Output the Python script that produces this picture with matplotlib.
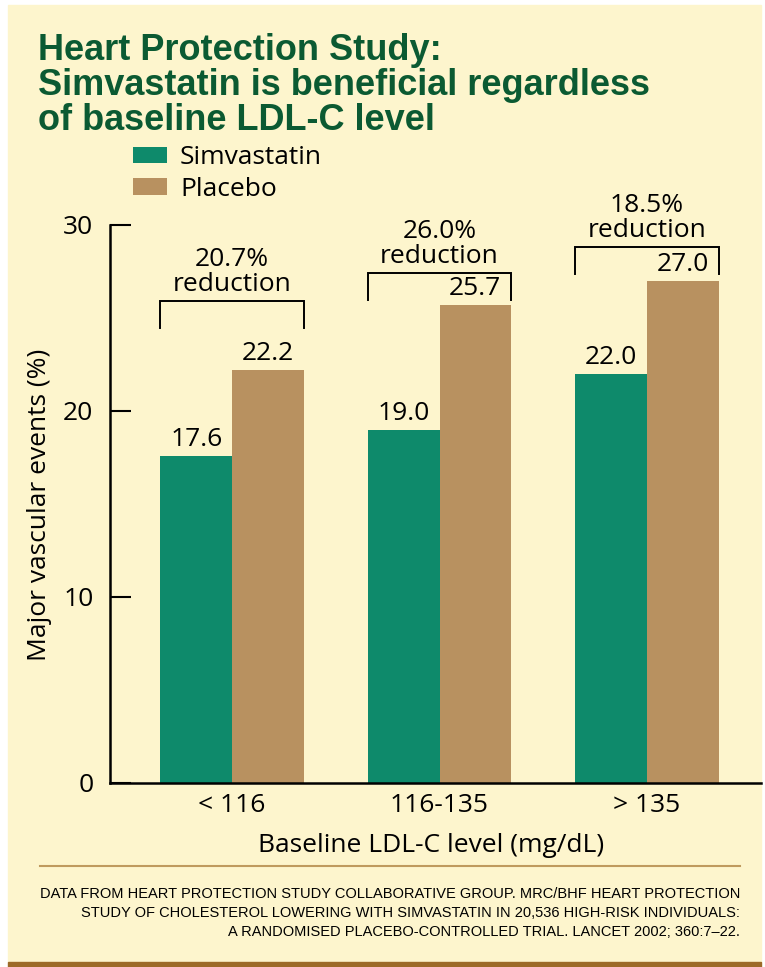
import numpy as np
import matplotlib
matplotlib.use('Agg')
import matplotlib.pyplot as plt
from matplotlib.patches import Rectangle
from matplotlib.lines import Line2D

# data
categories = ['< 116', '116-135', '> 135']
simvastatin = [17.6, 19.0, 22.0]
placebo = [22.2, 25.7, 27.0]
reduction = ['20.7%', '26.0%', '18.5%']
yticks = [0, 10, 20, 30]

title = 'Heart Protection Study:\nSimvastatin is beneficial regardless\nof baseline LDL-C level'
source = ('DATA FROM HEART PROTECTION STUDY COLLABORATIVE GROUP. MRC/BHF HEART PROTECTION\n'
          'STUDY OF CHOLESTEROL LOWERING WITH SIMVASTATIN IN 20,536 HIGH-RISK INDIVIDUALS:\n'
          'A RANDOMISED PLACEBO-CONTROLLED TRIAL. LANCET 2002; 360:7\u201322.')

# colours
bg = '#FDF5CD'
green = '#0E8A6B'
tan = '#B89160'
title_green = '#0B5A32'
rule_col = '#BF9A5E'
bar_col = '#9C6A28'

# layout: height of the bracket top over each group (data units)
bracket_top = [25.9, 27.4, 28.8]
bracket_h = 1.45
fs = 19

W, H = 765, 967
plt.rcParams['font.family'] = ['Open Sans', 'DejaVu Sans']


def fx(px):
    return px / W


def fy(py):
    return 1 - py / H


fig = plt.figure(figsize=(W / 100, H / 100), dpi=100)
fig.patch.set_facecolor('white')

# panel and bottom strip (drawn behind the axes)
fig.add_artist(Rectangle((fx(8), fy(962)), fx(761) - fx(8), fy(5) - fy(962),
                         transform=fig.transFigure, color=bg, zorder=-10))
fig.add_artist(Rectangle((fx(8), fy(967)), fx(761) - fx(8), fy(962) - fy(967),
                         transform=fig.transFigure, color=bar_col, zorder=-10))

ax = fig.add_axes([fx(110), fy(783), fx(761) - fx(110), fy(225) - fy(783)])
ax.set_facecolor('none')

x = np.arange(len(categories))
w = 0.345
ax.bar(x - w, simvastatin, w, align='edge', color=green, label='Simvastatin')
ax.bar(x, placebo, w, align='edge', color=tan, label='Placebo')

ax.set_xlim(-0.588, 2.549)
ax.set_ylim(0, 30)
ax.set_xticks(x)
ax.set_xticklabels(categories)
ax.set_yticks(yticks)
for s in ['top', 'right']:
    ax.spines[s].set_visible(False)
for s in ['left', 'bottom']:
    ax.spines[s].set_linewidth(1.8)
ax.tick_params(axis='y', direction='in', length=15, width=1.5, pad=12, labelsize=fs)
ax.tick_params(axis='x', length=0, pad=7, labelsize=fs)

# value labels
for xi, v in zip(x, simvastatin):
    ax.annotate(f'{v:.1f}', (xi - w / 2, v), xytext=(0, 7), textcoords='offset points',
                ha='center', va='baseline', fontsize=fs)
for xi, v in zip(x, placebo):
    ax.annotate(f'{v:.1f}', (xi + w / 2, v), xytext=(0, 7), textcoords='offset points',
                ha='center', va='baseline', fontsize=fs)

# brackets + reduction text
for i, r in enumerate(reduction):
    xl, xr = x[i] - w, x[i] + w
    top = bracket_top[i]
    bot = top - bracket_h
    ax.plot([xl, xl, xr, xr], [bot, top, top, bot], color='black', lw=1.4,
            clip_on=False, solid_joinstyle='miter')
    ax.annotate(f'{r}\nreduction', (x[i], top), xytext=(0, 3), textcoords='offset points',
                ha='center', va='bottom', fontsize=fs, linespacing=1.0,
                annotation_clip=False)

ax.legend(loc='upper left', bbox_to_anchor=(fx(133), fy(145)), bbox_transform=fig.transFigure,
          frameon=False, fontsize=fs, handlelength=1.29, handleheight=0.57,
          handletextpad=0.49, labelspacing=0.26, borderpad=0, borderaxespad=0)

fig.text(fx(38), fy(33), title, ha='left', va='top', fontsize=26, fontweight='bold',
         color=title_green, family='Liberation Sans', linespacing=1.0)
fig.text(fx(40), fy(505), 'Major vascular events (%)', rotation=90, ha='center',
         va='center', fontsize=fs)
fig.text(fx(431), fy(845), 'Baseline LDL-C level (mg/dL)', ha='center', va='center',
         fontsize=fs)

fig.add_artist(Line2D([fx(40), fx(740)], [fy(866), fy(866)], color=rule_col, lw=1.5))
fig.text(fx(740), fy(887), source, ha='right', va='top', fontsize=10.5,
         family='Liberation Sans', linespacing=1.45)

fig.savefig('out.png', dpi=100)
